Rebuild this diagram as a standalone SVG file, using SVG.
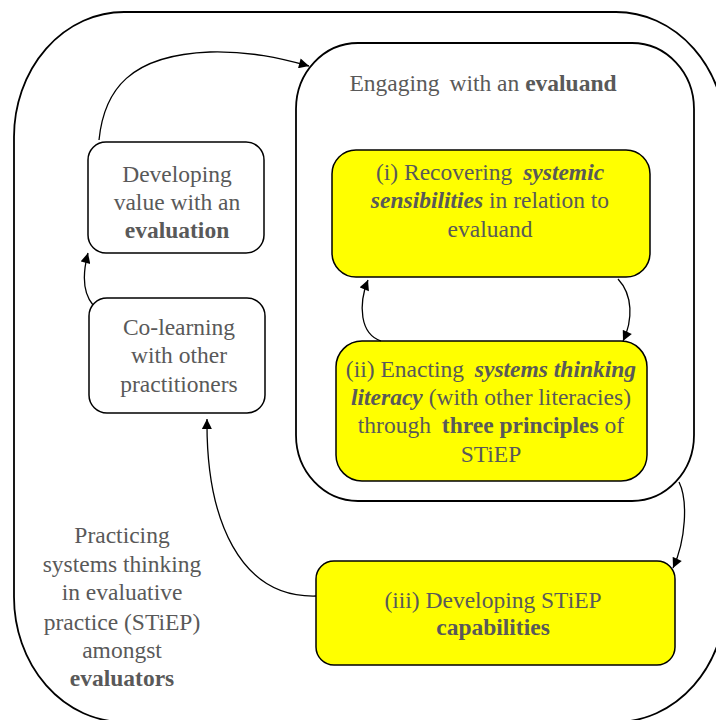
<svg xmlns="http://www.w3.org/2000/svg" width="716" height="720" viewBox="0 0 716 720" font-family="Liberation Serif, DejaVu Serif, serif">
  <defs>
    <marker id="arrow" viewBox="0 0 10 10" refX="10" refY="5" markerWidth="11" markerHeight="10" markerUnits="userSpaceOnUse" orient="auto">
      <path d="M0 0 L10 5 L0 10 Z" fill="#000"/>
    </marker>
    <style>
      .frame { fill: none; stroke: #000; stroke-width: 1.8; }
      .box { fill: #fff; stroke: #000; stroke-width: 1.5; }
      .hl { fill: #ffff00; stroke: #000; stroke-width: 1.5; }
      .conn { fill: none; stroke: #000; stroke-width: 1.3; marker-end: url(#arrow); }
      text { font-family: 'Liberation Serif', 'DejaVu Serif', serif; font-size: 23.5px; fill: #595959; text-anchor: middle; }
      .b { font-weight: bold; }
      .bi { font-weight: bold; font-style: italic; }
    </style>
  </defs>

  <!-- outer frame: systems thinking practice amongst evaluators -->
  <g id="practice">
    <rect class="frame" x="14" y="12" width="712" height="710" rx="110" ry="125"/>
    <text x="122" y="543">Practicing</text>
    <text x="122" y="572">systems thinking</text>
    <text x="122" y="600">in evaluative</text>
    <text x="122" y="630">practice (STiEP)</text>
    <text x="122" y="658">amongst</text>
    <text x="122" y="686" class="b">evaluators</text>
  </g>

  <!-- engaging with an evaluand -->
  <g id="engaging">
    <rect class="frame" x="296" y="43" width="398" height="458" rx="62" ry="66"/>
    <text x="483" y="91">Engaging <tspan dx="4">with an</tspan> <tspan class="b">evaluand</tspan></text>
  </g>

  <g id="recovering">
    <rect class="hl" x="332" y="150" width="318" height="127" rx="24" ry="24"/>
    <text x="490" y="180">(i) Recovering <tspan class="bi" dx="5">systemic</tspan></text>
    <text x="490" y="208"><tspan class="bi">sensibilities</tspan> in relation to</text>
    <text x="490" y="237">evaluand</text>
  </g>

  <g id="enacting">
    <rect class="hl" x="336" y="341" width="311" height="140" rx="26" ry="26"/>
    <text x="491" y="377">(ii) Enacting <tspan class="bi" dx="5">systems thinking</tspan></text>
    <text x="491" y="405"><tspan class="bi">literacy</tspan> (with other literacies)</text>
    <text x="491" y="433">through <tspan class="b" dx="5">three principles</tspan> of</text>
    <text x="491" y="462">STiEP</text>
  </g>

  <g id="capabilities">
    <rect class="hl" x="316" y="561" width="359" height="104" rx="18" ry="18"/>
    <text x="493" y="608">(iii) Developing STiEP</text>
    <text x="493" y="635" class="b">capabilities</text>
  </g>

  <g id="developing-value">
    <rect class="box" x="88" y="142" width="176" height="111" rx="18" ry="18"/>
    <text x="177" y="182">Developing</text>
    <text x="177" y="210">value with an</text>
    <text x="177" y="238" class="b">evaluation</text>
  </g>

  <g id="co-learning">
    <rect class="box" x="89" y="298" width="176" height="115" rx="18" ry="18"/>
    <text x="179" y="335">Co-learning</text>
    <text x="179" y="363">with other</text>
    <text x="179" y="392">practitioners</text>
  </g>

  <!-- connectors -->
  <g id="connectors">
    <path class="conn" d="M99 140 C104 90 130 55 210 52 C250 51 280 58 309 66"/>
    <path class="conn" d="M93 305 C82 292 83 272 88 253"/>
    <path class="conn" d="M381 341 C360 334 358 305 368 280"/>
    <path class="conn" d="M618 279 C633 295 633 320 623 341"/>
    <path class="conn" d="M679 482 C688 500 686 540 673 568"/>
    <path class="conn" d="M316 596 C240 598 206 520 207 419"/>
  </g>
</svg>
